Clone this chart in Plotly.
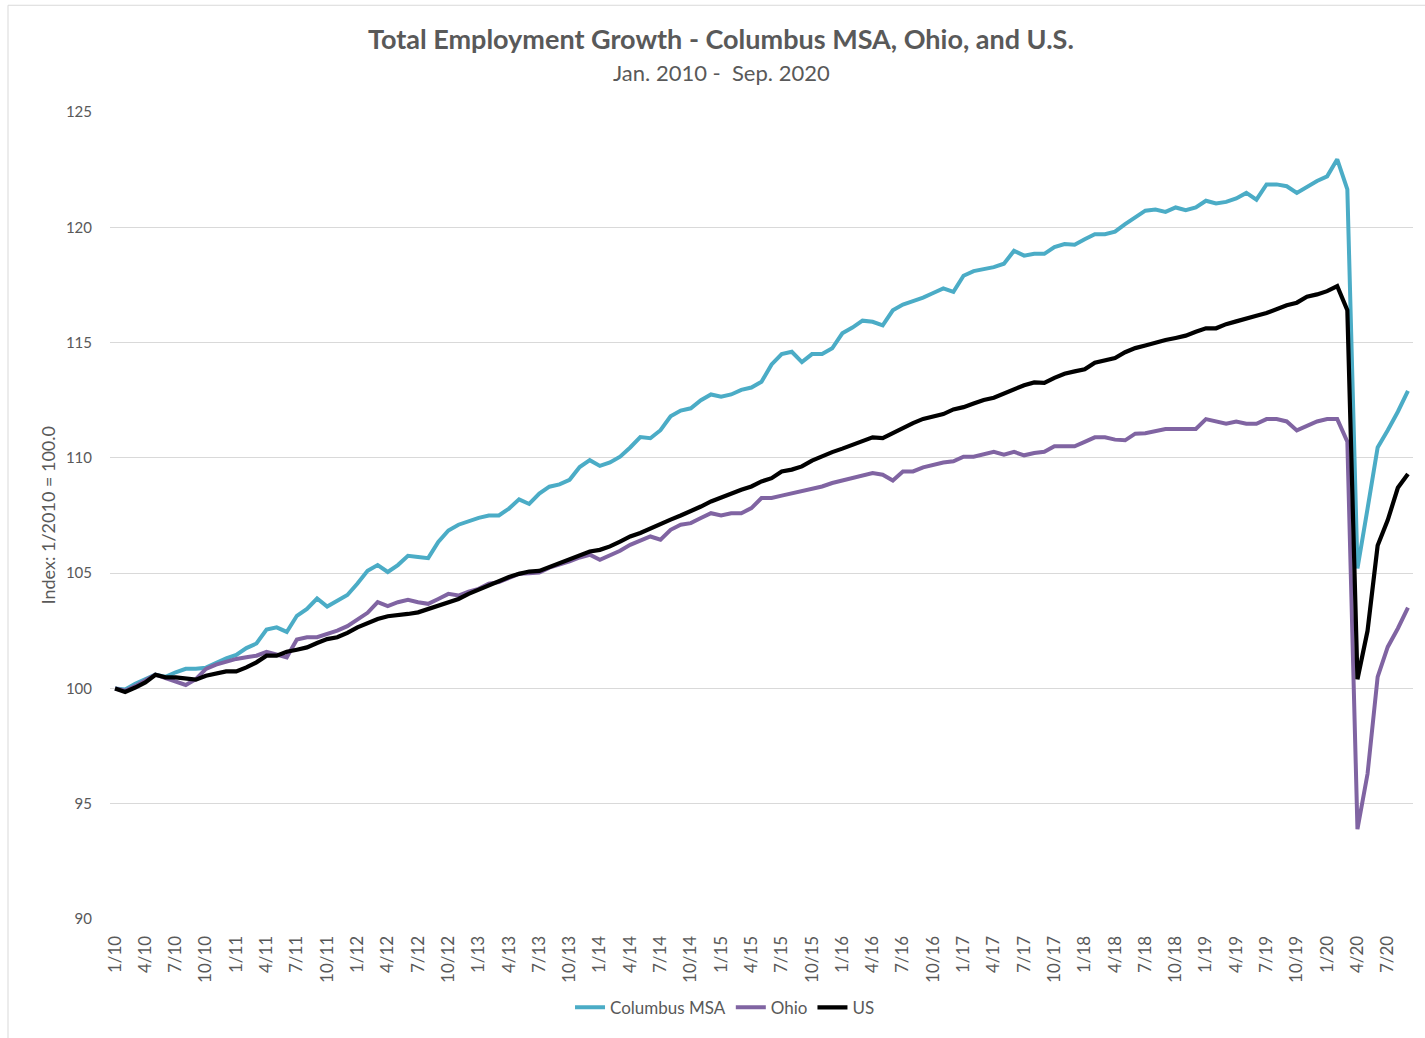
import plotly.graph_objects as go

# ---- Data (index, Jan 2010 = 100.0), monthly Jan 2010 - Sep 2020 ----
years = list(range(10, 21))
months = [f"{m}/{y}" for y in years for m in range(1, 13)][:129]

columbus = [
    100.0, 99.95, 100.2, 100.4, 100.6, 100.5, 100.7, 100.85, 100.85, 100.9,
    101.1, 101.3, 101.45, 101.75, 101.95, 102.55, 102.65, 102.45, 103.15, 103.45,
    103.9, 103.55, 103.8, 104.05, 104.55, 105.1, 105.35, 105.05, 105.35, 105.75,
    105.7, 105.65, 106.35, 106.85, 107.1, 107.25, 107.4, 107.5, 107.5, 107.8,
    108.2, 108.0, 108.45, 108.75, 108.85, 109.05, 109.6, 109.9, 109.65, 109.8,
    110.05, 110.45, 110.9, 110.85, 111.2, 111.8, 112.05, 112.15, 112.5, 112.75,
    112.65, 112.75, 112.95, 113.05, 113.3, 114.05, 114.5, 114.6, 114.15, 114.5,
    114.5, 114.75, 115.4, 115.65, 115.95, 115.9, 115.75, 116.4, 116.65, 116.8,
    116.95, 117.15, 117.35, 117.2, 117.9, 118.1, 118.17, 118.27, 118.42, 118.98,
    118.77, 118.85, 118.85, 119.14, 119.27, 119.24, 119.48, 119.7, 119.7, 119.81,
    120.14, 120.43, 120.72, 120.77, 120.67, 120.86, 120.74, 120.86, 121.15, 121.03,
    121.1, 121.25, 121.49, 121.2, 121.86, 121.86, 121.78, 121.49, 121.75, 122.01,
    122.21, 122.95, 121.65, 105.2, 107.8, 110.45, 111.2, 112.0, 112.9,
]

ohio = [
    100.0, 99.9, 100.1, 100.35, 100.6, 100.45, 100.3, 100.15, 100.4, 100.85,
    101.03, 101.16, 101.28, 101.35, 101.42, 101.59, 101.49, 101.35, 102.12, 102.22,
    102.22, 102.36, 102.51, 102.7, 103.01, 103.28, 103.74, 103.57, 103.74, 103.84,
    103.74, 103.67, 103.88, 104.1, 104.03, 104.2, 104.32, 104.54, 104.61, 104.78,
    104.97, 105.0, 105.03, 105.24, 105.37, 105.51, 105.68, 105.8, 105.58, 105.77,
    105.97, 106.23, 106.4, 106.59, 106.45, 106.88, 107.1, 107.17, 107.39, 107.6,
    107.5, 107.6, 107.6, 107.82, 108.26, 108.26, 108.36, 108.46, 108.55, 108.65,
    108.76, 108.91, 109.02, 109.12, 109.2, 109.34, 109.27, 109.02, 109.41, 109.41,
    109.59, 109.7, 109.8, 109.85, 110.05, 110.05, 110.14, 110.26, 110.14, 110.26,
    110.11, 110.21, 110.26, 110.5, 110.5, 110.5, 110.69, 110.89, 110.89, 110.79,
    110.76, 111.05, 111.07, 111.15, 111.25, 111.25, 111.25, 111.25, 111.68, 111.58,
    111.48, 111.58, 111.48, 111.48, 111.68, 111.68, 111.58, 111.19, 111.4, 111.58,
    111.68, 111.68, 110.7, 93.9, 96.3, 100.5, 101.8, 102.6, 103.5,
]

us = [
    100.0, 99.85, 100.04, 100.26, 100.59, 100.48, 100.48, 100.45, 100.38, 100.55,
    100.65, 100.74, 100.74, 100.91, 101.13, 101.42, 101.42, 101.59, 101.68, 101.78,
    101.97, 102.14, 102.22, 102.41, 102.65, 102.84, 103.01, 103.13, 103.16, 103.23,
    103.3, 103.45, 103.59, 103.74, 103.88, 104.1, 104.29, 104.46, 104.65, 104.83,
    104.97, 105.07, 105.1, 105.27, 105.45, 105.62, 105.8, 105.94, 106.01, 106.16,
    106.37, 106.59, 106.74, 106.95, 107.13, 107.32, 107.5, 107.68, 107.89, 108.11,
    108.29, 108.47, 108.62, 108.76, 108.98, 109.12, 109.41, 109.49, 109.63, 109.88,
    110.07, 110.25, 110.4, 110.57, 110.75, 110.89, 110.86, 111.08, 111.32, 111.51,
    111.69, 111.8, 111.9, 112.1, 112.2, 112.36, 112.51, 112.61, 112.79, 112.98,
    113.15, 113.27, 113.25, 113.47, 113.65, 113.75, 113.84, 114.13, 114.23, 114.33,
    114.58, 114.76, 114.87, 115.01, 115.11, 115.2, 115.3, 115.47, 115.62, 115.62,
    115.8, 115.92, 116.02, 116.16, 116.28, 116.45, 116.62, 116.73, 116.99, 117.09,
    117.23, 117.45, 116.4, 100.4, 102.5, 106.2, 107.3, 108.7, 109.3,
]

y_ticks = [90, 95, 100, 105, 110, 115, 120, 125]
x_tick_labels = months[::3]
x_idx = list(range(len(months)))

TEXT = "#595959"
FONT = "Lato, 'Open Sans', sans-serif"

fig = go.Figure()
fig.add_trace(go.Scatter(x=x_idx, y=columbus, mode="lines", name="Columbus MSA",
                         line=dict(color="#4BACC6", width=4)))
fig.add_trace(go.Scatter(x=x_idx, y=ohio, mode="lines", name="Ohio",
                         line=dict(color="#8064A2", width=4)))
fig.add_trace(go.Scatter(x=x_idx, y=us, mode="lines", name="US",
                         line=dict(color="#000000", width=4.2)))

fig.update_layout(
    width=1425, height=1038,
    margin=dict(l=110, r=12, t=112, b=117),
    paper_bgcolor="white", plot_bgcolor="white",
    font=dict(family=FONT, color=TEXT, size=15),
    showlegend=True,
    legend=dict(orientation="h", x=0.472, xanchor="center", y=-0.11, yanchor="middle",
                font=dict(size=17, color=TEXT), traceorder="normal"),
    annotations=[
        dict(text="<b>Total Employment Growth - Columbus MSA, Ohio, and U.S.</b>",
             xref="paper", yref="paper", x=(721 - 110) / 1303, y=(921 - 38) / 809,
             xanchor="center", yanchor="middle", showarrow=False,
             font=dict(size=27, color=TEXT, family=FONT)),
        dict(text="Jan. 2010 -  Sep. 2020",
             xref="paper", yref="paper", x=(721 - 110) / 1303, y=(921 - 72) / 809,
             xanchor="center", yanchor="middle", showarrow=False,
             font=dict(size=22, color=TEXT, family=FONT)),
        dict(text="Index: 1/2010 = 100.0",
             xref="paper", yref="paper", x=(47 - 110) / 1303, y=0.5,
             xanchor="center", yanchor="middle", textangle=-90, showarrow=False,
             font=dict(size=18, color=TEXT, family=FONT)),
    ],
    shapes=[
        dict(type="rect", xref="paper", yref="paper",
             x0=(8 - 110) / 1303, x1=(1440 - 110) / 1303,
             y0=(921 - 1050) / 809, y1=(921 - 5) / 809,
             line=dict(color="#d9d9d9", width=1), fillcolor="rgba(0,0,0,0)", layer="below"),
    ],
)

fig.update_xaxes(
    range=[-0.5, len(months) - 0.5],
    tickmode="array", tickvals=x_idx[::3], ticktext=x_tick_labels,
    tickangle=-90, tickfont=dict(size=17, color=TEXT),
    showgrid=False, zeroline=False, showline=False,
    ticks="outside", ticklen=9, tickcolor="rgba(0,0,0,0)",
)
fig.update_yaxes(
    range=[90, 125], tickmode="array", tickvals=y_ticks,
    tickfont=dict(size=15, color=TEXT),
    showgrid=True, gridcolor="#d9d9d9", gridwidth=1,
    zeroline=False, showline=False,
    ticks="outside", ticklen=14, tickcolor="rgba(0,0,0,0)",
)

fig.write_html("out.html", config={"displayModeBar": False},
               post_script="document.body.style.margin='0';")
